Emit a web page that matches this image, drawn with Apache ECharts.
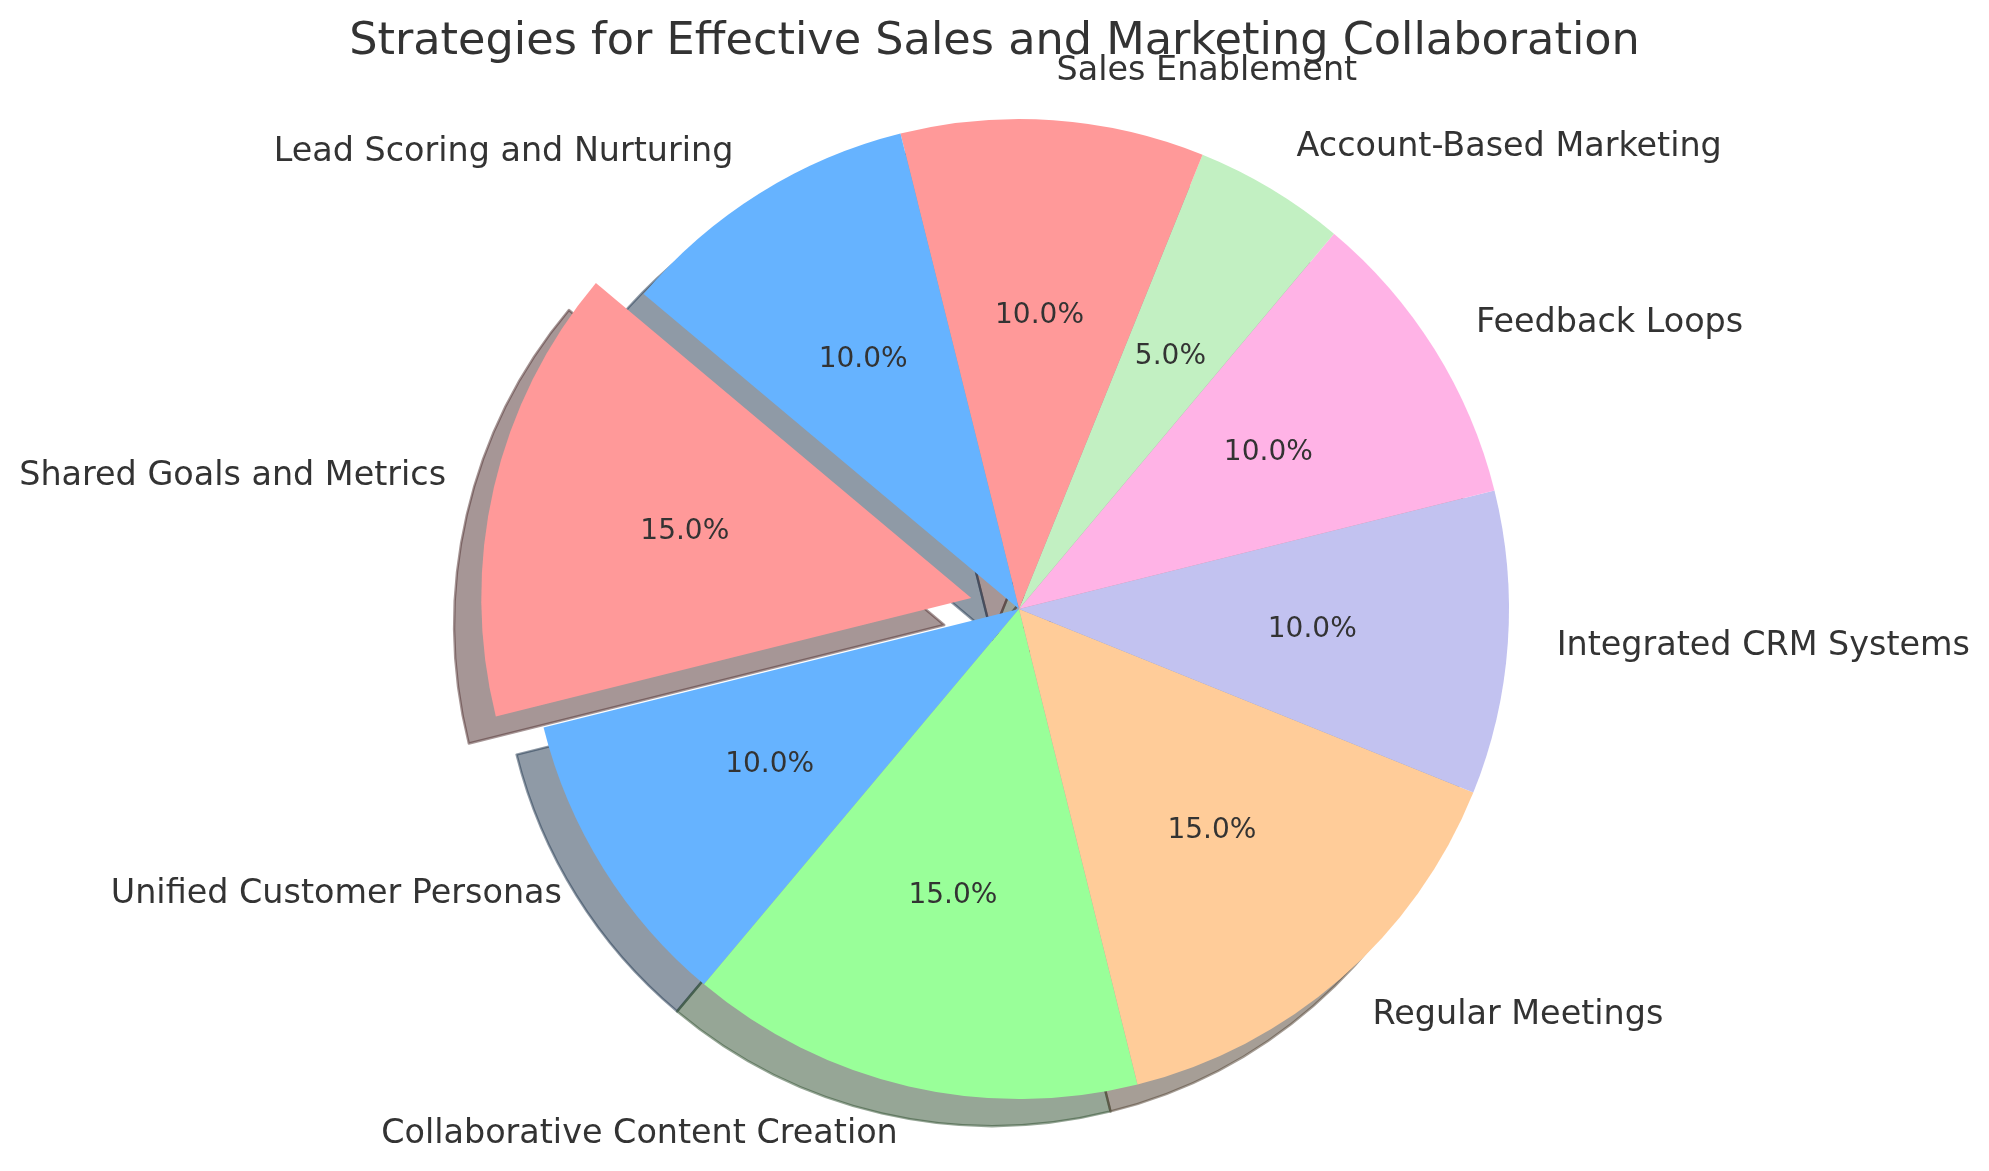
<!DOCTYPE html>
<html>
<head>
<meta charset="utf-8">
<script src="https://cdn.jsdelivr.net/npm/echarts@6/dist/echarts.min.js"></script>
<style>
html,body{margin:0;padding:0;background:#fff;}
#chart{width:1989px;height:1171px;}
</style>
</head>
<body>
<div id="chart"></div>
<script>
const categories = [
  'Shared Goals and Metrics',
  'Unified Customer Personas',
  'Collaborative Content Creation',
  'Regular Meetings',
  'Integrated CRM Systems',
  'Feedback Loops',
  'Account-Based Marketing',
  'Sales Enablement',
  'Lead Scoring and Nurturing'
];
const values = [15, 10, 15, 15, 10, 10, 5, 10, 10];
const colors = ['#ff9999', '#66b3ff', '#99ff99', '#ffcc99', '#c2c2f0', '#ffb3e6', '#c2f0c2', '#ff9999', '#66b3ff'];
const exploded = [true, false, false, false, false, false, false, false, false];
const titleText = 'Strategies for Effective Sales and Marketing Collaboration';

const FONT = "'DejaVu Sans', 'Liberation Sans', sans-serif";
const CX = 1019, CY = 609, R = 490;
const EXPLODE = 49;
const SHX = -27, SHY = 27;

function shadowColor(hex) {
  const r = parseInt(hex.slice(1, 3), 16), g = parseInt(hex.slice(3, 5), 16), b = parseInt(hex.slice(5, 7), 16);
  return 'rgba(' + Math.round(r * 0.3) + ',' + Math.round(g * 0.3) + ',' + Math.round(b * 0.3) + ',0.5)';
}

const mainData = categories.map((c, i) => ({
  name: c, value: values[i], selected: exploded[i],
  itemStyle: { color: colors[i] }
}));
const shadowData = categories.map((c, i) => ({
  name: c, value: values[i], selected: exploded[i],
  itemStyle: { color: shadowColor(colors[i]), borderColor: shadowColor(colors[i]), borderWidth: 2.4 }
}));
const pctData = categories.map((c, i) => ({
  name: c, value: values[i], selected: exploded[i],
  itemStyle: { color: 'rgba(0,0,0,0)' }
}));

const common = {
  type: 'pie',
  startAngle: 140,
  clockwise: false,
  selectedMode: 'multiple',
  selectedOffset: EXPLODE,
  avoidLabelOverlap: false,
  silent: true,
  animation: false,
  emphasis: { disabled: true },
  select: { disabled: false },
  minAngle: 0
};

const chart = echarts.init(document.getElementById('chart'), null, { renderer: 'canvas' });
chart.setOption({
  backgroundColor: '#ffffff',
  animation: false,
  title: {
    text: titleText,
    left: 'center',
    top: 15,
    textStyle: { fontFamily: FONT, fontSize: 44.6, fontWeight: 'normal', color: '#333333' }
  },
  series: [
    Object.assign({}, common, {
      name: 'shadow',
      z: 1,
      center: [CX + SHX, CY + SHY],
      radius: [0, R],
      label: { show: false },
      labelLine: { show: false },
      data: shadowData
    }),
    Object.assign({}, common, {
      name: 'main',
      z: 2,
      center: [CX, CY],
      radius: [0, R],
      itemStyle: { borderWidth: 0 },
      label: {
        show: true,
        position: 'outside',
        formatter: '{b}',
        fontFamily: FONT,
        fontSize: 33.4,
        color: '#333333',
        distanceToLabelLine: 0
      },
      labelLine: { show: false, length: R * 0.1, length2: 0 },
      data: mainData
    }),
    Object.assign({}, common, {
      name: 'pct',
      z: 3,
      center: [CX, CY],
      radius: [0, 2 * (R * 0.6 - 3)],
      itemStyle: { borderWidth: 0 },
      label: {
        show: true,
        position: 'inside',
        formatter: p => p.percent.toFixed(1) + '%',
        fontFamily: FONT,
        fontSize: 28,
        color: '#333333'
      },
      labelLine: { show: false },
      data: pctData
    })
  ]
});
</script>
</body>
</html>
